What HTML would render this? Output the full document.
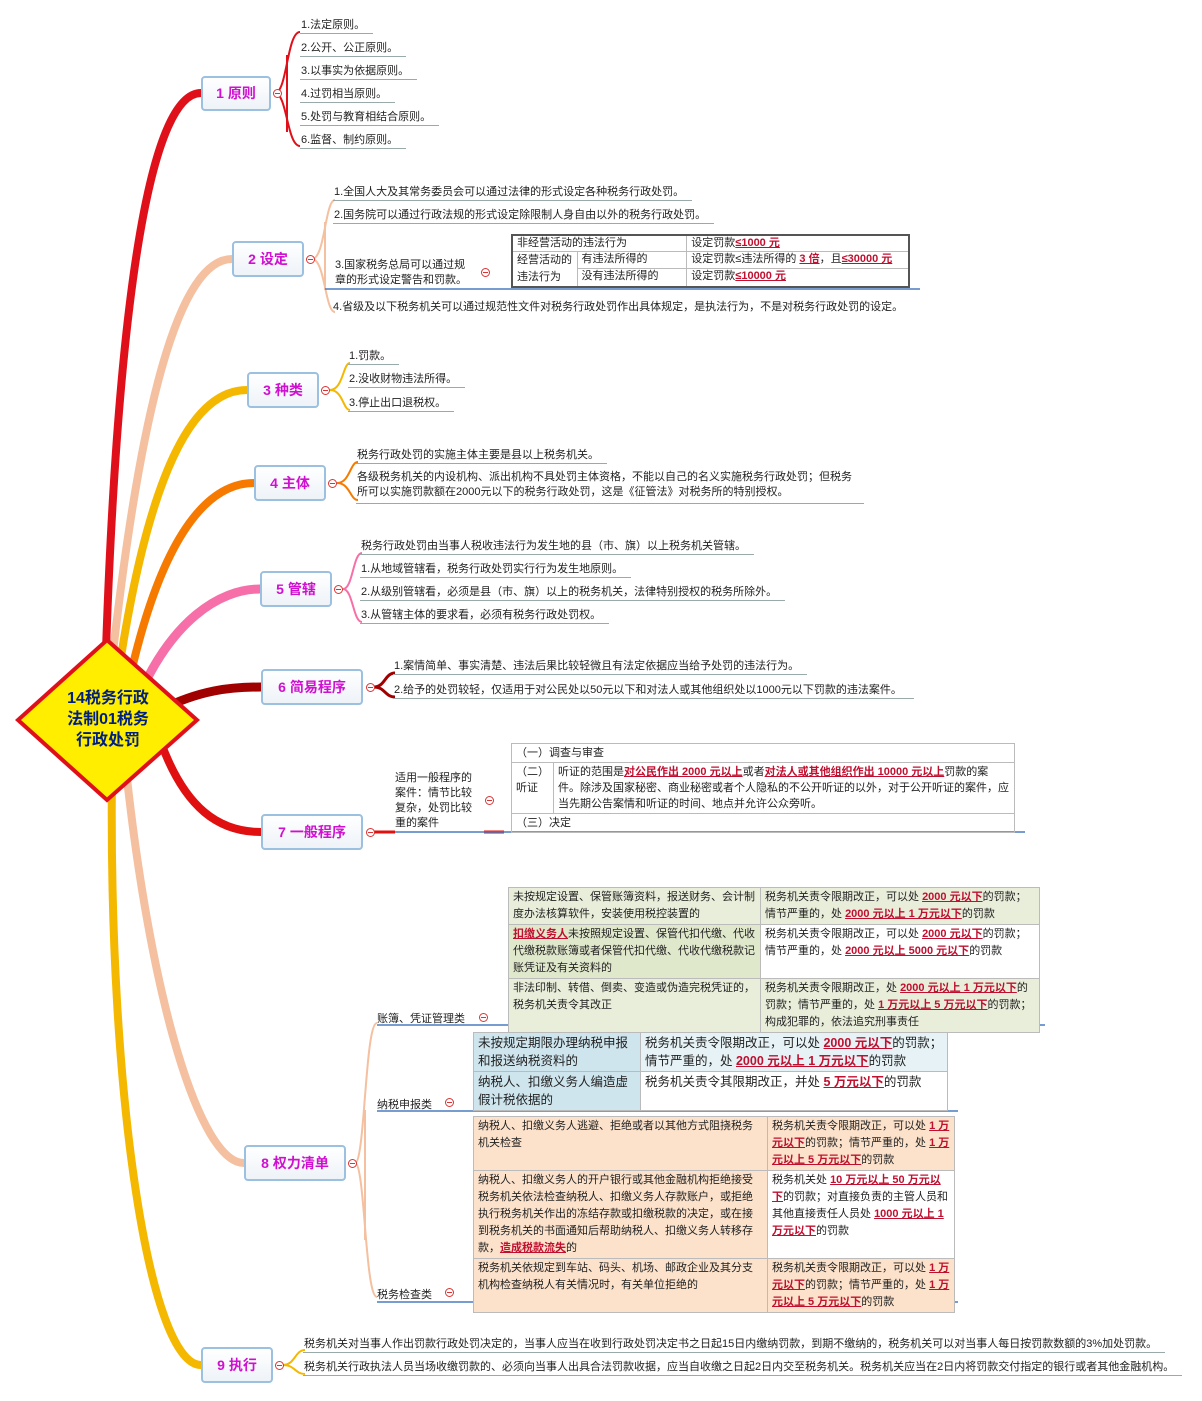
<!DOCTYPE html>
<html><head><meta charset="utf-8">
<style>
*{margin:0;padding:0;box-sizing:border-box}
body{width:1202px;height:1401px;background:#fff;position:relative;overflow:hidden;font-family:"Liberation Sans","Noto Sans CJK SC",sans-serif;font-size:11px;color:#222}
.a{position:absolute;white-space:nowrap}
.lf{position:absolute;white-space:nowrap;border-bottom:1px solid #9aa;padding:0 8px 1px 1px;line-height:14px}
.nd{position:absolute;border:2px solid #9cc0e0;border-radius:4px;background:linear-gradient(#fff,#eef3f8);color:#d010d0;font-weight:bold;font-size:14px;text-align:center}
.c{position:absolute;width:9px;height:9px;border:1px solid #d33;border-radius:50%;background:#fff}
.c:after{content:"";position:absolute;left:1px;right:1px;top:3px;height:1px;background:#d33}
table{position:absolute;border-collapse:collapse;font-size:11px}
td{border:1px solid #bbb;padding:1px 4px;vertical-align:top;line-height:16px}
u{color:#c01030;font-weight:bold;text-decoration:underline}
</style></head><body>
<svg class="a" style="left:0;top:0" width="1202" height="1401">
<g fill="none" stroke-linecap="round">
<path d="M106,650 C118,300 150,93 201,93" stroke="#e0101a" stroke-width="8"/>
<path d="M110,680 C140,400 180,259 232,259" stroke="#f4c0a0" stroke-width="8"/>
<path d="M116,690 C150,450 200,390 247,390" stroke="#f5b800" stroke-width="8"/>
<path d="M125,700 C160,530 210,483 254,483" stroke="#f77a00" stroke-width="8"/>
<path d="M135,705 C170,620 220,589 260,589" stroke="#f76fa8" stroke-width="9"/>
<path d="M160,710 C200,690 230,687 261,687" stroke="#a00000" stroke-width="9"/>
<path d="M160,740 C185,810 220,832 261,832" stroke="#e01010" stroke-width="8"/>
<path d="M125,760 C150,1000 200,1163 244,1163" stroke="#f4c0a0" stroke-width="8"/>
<path d="M112,770 C108,1100 150,1365 201,1365" stroke="#f5b800" stroke-width="8"/>
</g>
<g fill="none" stroke-width="2">
<g stroke="#e0101a"><path d="M275,93 C287,93 287,32 300,32"/><path d="M275,93 C287,93 287,146 300,146"/><path d="M287,55 L287,132"/></g>
<g stroke="#f4c0a0"><path d="M312,259 C325,259 325,200 335,200"/><path d="M312,259 C325,259 325,312 335,312"/><path d="M325,222 L325,290"/></g>
<g stroke="#f5b800"><path d="M330,390 C343,390 343,363 350,363"/><path d="M330,390 C343,390 343,410 350,410"/></g>
<g stroke="#f77a00"><path d="M337,483 C350,483 350,462 358,462"/><path d="M337,483 C350,483 350,500 358,500"/></g>
<g stroke="#f76fa8"><path d="M343,589 C353,589 353,553 362,553"/><path d="M343,589 C353,589 353,622 362,622"/></g>
<g stroke="#a00000" stroke-width="3"><path d="M374,687 C385,687 385,673 395,673"/><path d="M374,687 C385,687 385,697 395,697"/></g>
<path d="M374,832 L395,832" stroke="#e01010" stroke-width="3"/>
<path d="M484,832 L504,832" stroke="#e01010" stroke-width="3"/>
<g stroke="#f4c0a0"><path d="M355,1163 C365,1163 365,1023 377,1023"/><path d="M355,1163 C365,1163 365,1297 377,1297"/><path d="M365,1110 L365,1240"/></g>
<g stroke="#f5b800"><path d="M283,1365 C295,1365 295,1350 305,1350"/><path d="M283,1365 C295,1365 295,1374 305,1374"/></g>
</g>
<g stroke="#4a7cc0" stroke-width="1.5">
<line x1="325" y1="289" x2="920" y2="289"/><line x1="395" y1="832" x2="1025" y2="832"/>
<line x1="377" y1="1025" x2="1045" y2="1025"/><line x1="377" y1="1111" x2="958" y2="1111"/><line x1="377" y1="1302" x2="958" y2="1302"/>
</g>
<polygon points="107,640 197,720 107,800 18,720" fill="#ffee00" stroke="#e0101a" stroke-width="4"/>
</svg>
<div class="a" style="left:52px;top:688px;width:112px;text-align:center;font-size:16px;font-weight:bold;color:#002080;line-height:21px">14税务行政<br>法制01税务<br>行政处罚</div>

<div class="nd" style="left:201px;top:76px;width:70px;height:35px;line-height:31px">1 原则</div>
<div class="nd" style="left:232px;top:241px;width:72px;height:36px;line-height:32px">2 设定</div>
<div class="nd" style="left:247px;top:372px;width:72px;height:36px;line-height:32px">3 种类</div>
<div class="nd" style="left:254px;top:465px;width:72px;height:36px;line-height:32px">4 主体</div>
<div class="nd" style="left:260px;top:571px;width:72px;height:36px;line-height:32px">5 管辖</div>
<div class="nd" style="left:261px;top:669px;width:102px;height:36px;line-height:32px">6 简易程序</div>
<div class="nd" style="left:261px;top:814px;width:102px;height:36px;line-height:32px">7 一般程序</div>
<div class="nd" style="left:244px;top:1145px;width:102px;height:36px;line-height:32px">8 权力清单</div>
<div class="nd" style="left:201px;top:1347px;width:72px;height:36px;line-height:32px">9 执行</div>

<div class="c" style="left:273px;top:89px"></div><div class="c" style="left:306px;top:255px"></div><div class="c" style="left:321px;top:386px"></div>
<div class="c" style="left:328px;top:479px"></div><div class="c" style="left:334px;top:585px"></div><div class="c" style="left:366px;top:683px"></div>
<div class="c" style="left:366px;top:828px"></div><div class="c" style="left:348px;top:1159px"></div><div class="c" style="left:275px;top:1361px"></div>
<div class="c" style="left:481px;top:268px"></div><div class="c" style="left:485px;top:796px"></div><div class="c" style="left:479px;top:1013px"></div>
<div class="c" style="left:445px;top:1098px"></div><div class="c" style="left:445px;top:1288px"></div>

<div class="lf" style="left:300px;top:18px">1.法定原则。</div>
<div class="lf" style="left:300px;top:41px">2.公开、公正原则。</div>
<div class="lf" style="left:300px;top:64px">3.以事实为依据原则。</div>
<div class="lf" style="left:300px;top:87px">4.过罚相当原则。</div>
<div class="lf" style="left:300px;top:110px">5.处罚与教育相结合原则。</div>
<div class="lf" style="left:300px;top:133px">6.监督、制约原则。</div>

<div class="lf" style="left:333px;top:185px">1.全国人大及其常务委员会可以通过法律的形式设定各种税务行政处罚。</div>
<div class="lf" style="left:333px;top:208px">2.国务院可以通过行政法规的形式设定除限制人身自由以外的税务行政处罚。</div>
<div class="a" style="left:335px;top:258px;line-height:15px">3.国家税务总局可以通过规<br>章的形式设定警告和罚款。</div>
<div class="a" style="left:333px;top:298px">4.省级及以下税务机关可以通过规范性文件对税务行政处罚作出具体规定，是执法行为，不是对税务行政处罚的设定。</div>
<table style="left:511px;top:234px;width:399px;border:2px solid #555">
<tr><td colspan="2" style="width:169px;padding:0 4px;line-height:15px">非经营活动的违法行为</td><td style="padding:0 4px;line-height:15px">设定罚款<u>≤1000 元</u></td></tr>
<tr><td rowspan="2" style="width:65px;line-height:17px;padding:0 4px">经营活动的违法行为</td><td style="padding:0 4px;line-height:15px">有违法所得的</td><td style="padding:0 4px;line-height:15px">设定罚款≤违法所得的 <u>3 倍</u>，且<u>≤30000 元</u></td></tr>
<tr><td style="padding:0 4px;line-height:15px">没有违法所得的</td><td style="padding:0 4px;line-height:15px">设定罚款<u>≤10000 元</u></td></tr>
</table>

<div class="lf" style="left:348px;top:349px">1.罚款。</div>
<div class="lf" style="left:348px;top:372px">2.没收财物违法所得。</div>
<div class="lf" style="left:348px;top:396px">3.停止出口退税权。</div>

<div class="lf" style="left:356px;top:448px">税务行政处罚的实施主体主要是县以上税务机关。</div>
<div class="lf" style="left:356px;top:470px;line-height:15px;padding-bottom:3px;width:508px;white-space:normal">各级税务机关的内设机构、派出机构不具处罚主体资格，不能以自己的名义实施税务行政处罚；但税务所可以实施罚款额在2000元以下的税务行政处罚，这是《征管法》对税务所的特别授权。</div>

<div class="lf" style="left:360px;top:539px">税务行政处罚由当事人税收违法行为发生地的县（市、旗）以上税务机关管辖。</div>
<div class="lf" style="left:360px;top:562px">1.从地域管辖看，税务行政处罚实行行为发生地原则。</div>
<div class="lf" style="left:360px;top:585px">2.从级别管辖看，必须是县（市、旗）以上的税务机关，法律特别授权的税务所除外。</div>
<div class="lf" style="left:360px;top:608px">3.从管辖主体的要求看，必须有税务行政处罚权。</div>

<div class="lf" style="left:393px;top:659px">1.案情简单、事实清楚、违法后果比较轻微且有法定依据应当给予处罚的违法行为。</div>
<div class="lf" style="left:393px;top:683px;padding-right:12px">2.给予的处罚较轻，仅适用于对公民处以50元以下和对法人或其他组织处以1000元以下罚款的违法案件。</div>

<div class="a" style="left:395px;top:771px;line-height:15px">适用一般程序的<br>案件：情节比较<br>复杂，处罚比较<br>重的案件</div>
<table style="left:511px;top:743px;width:504px;border:1px solid #bbb">
<tr><td colspan="2" style="line-height:16px">（一）调查与审查</td></tr>
<tr><td style="width:40px;line-height:16px">（二）听证</td><td style="line-height:16px">听证的范围是<u>对公民作出 2000 元以上</u>或者<u>对法人或其他组织作出 10000 元以上</u>罚款的案件。除涉及国家秘密、商业秘密或者个人隐私的不公开听证的以外，对于公开听证的案件，应当先期公告案情和听证的时间、地点并允许公众旁听。</td></tr>
<tr><td colspan="2" style="line-height:16px">（三）决定</td></tr>
</table>

<div class="a" style="left:377px;top:1010px">账簿、凭证管理类</div>
<div class="a" style="left:377px;top:1096px">纳税申报类</div>
<div class="a" style="left:377px;top:1286px">税务检查类</div>

<table style="left:508px;top:887px;width:532px;background:#e9eedb">
<tr style="height:36px"><td style="width:252px;line-height:17px">未按规定设置、保管账簿资料，报送财务、会计制度办法核算软件，安装使用税控装置的</td><td style="line-height:17px">税务机关责令限期改正，可以处 <u>2000 元以下</u>的罚款；情节严重的，处 <u>2000 元以上 1 万元以下</u>的罚款</td></tr>
<tr style="height:52px"><td style="line-height:17px;background:#e0e8cc"><u>扣缴义务人</u>未按照规定设置、保管代扣代缴、代收代缴税款账簿或者保管代扣代缴、代收代缴税款记账凭证及有关资料的</td><td style="line-height:17px;background:#fff">税务机关责令限期改正，可以处 <u>2000 元以下</u>的罚款；情节严重的，处 <u>2000 元以上 5000 元以下</u>的罚款</td></tr>
<tr style="height:50px"><td style="line-height:17px">非法印制、转借、倒卖、变造或伪造完税凭证的，税务机关责令其改正</td><td style="line-height:17px">税务机关责令限期改正，处 <u>2000 元以上 1 万元以下</u>的罚款；情节严重的，处 <u>1 万元以上 5 万元以下</u>的罚款；构成犯罪的，依法追究刑事责任</td></tr>
</table>

<table style="left:473px;top:1032px;width:475px;font-size:12.5px">
<tr style="height:39px"><td style="width:167px;background:#cfe5ee;line-height:18px">未按规定期限办理纳税申报和报送纳税资料的</td><td style="background:#e6f2f6;line-height:18px">税务机关责令限期改正，可以处 <u>2000 元以下</u>的罚款；情节严重的，处 <u>2000 元以上 1 万元以下</u>的罚款</td></tr>
<tr style="height:39px"><td style="background:#cfe5ee;line-height:18px">纳税人、扣缴义务人编造虚假计税依据的</td><td style="line-height:18px">税务机关责令其限期改正，并处 <u>5 万元以下</u>的罚款</td></tr>
</table>

<table style="left:473px;top:1116px;width:482px;background:#fce2cb">
<tr style="height:52px"><td style="width:294px;line-height:17px">纳税人、扣缴义务人逃避、拒绝或者以其他方式阻挠税务机关检查</td><td style="line-height:17px">税务机关责令限期改正，可以处 <u>1 万元以下</u>的罚款；情节严重的，处 <u>1 万元以上 5 万元以下</u>的罚款</td></tr>
<tr style="height:82px"><td style="line-height:17px">纳税人、扣缴义务人的开户银行或其他金融机构拒绝接受税务机关依法检查纳税人、扣缴义务人存款账户，或拒绝执行税务机关作出的冻结存款或扣缴税款的决定，或在接到税务机关的书面通知后帮助纳税人、扣缴义务人转移存款，<u>造成税款流失</u>的</td><td style="line-height:17px;background:#fff">税务机关处 <u>10 万元以上 50 万元以下</u>的罚款；对直接负责的主管人员和其他直接责任人员处 <u>1000 元以上 1 万元以下</u>的罚款</td></tr>
<tr style="height:50px"><td style="line-height:17px">税务机关依规定到车站、码头、机场、邮政企业及其分支机构检查纳税人有关情况时，有关单位拒绝的</td><td style="line-height:17px">税务机关责令限期改正，可以处 <u>1 万元以下</u>的罚款；情节严重的，处 <u>1 万元以上 5 万元以下</u>的罚款</td></tr>
</table>

<div class="lf" style="left:303px;top:1337px">税务机关对当事人作出罚款行政处罚决定的，当事人应当在收到行政处罚决定书之日起15日内缴纳罚款，到期不缴纳的，税务机关可以对当事人每日按罚款数额的3%加处罚款。</div>
<div class="lf" style="left:303px;top:1360px">税务机关行政执法人员当场收缴罚款的、必须向当事人出具合法罚款收据，应当自收缴之日起2日内交至税务机关。税务机关应当在2日内将罚款交付指定的银行或者其他金融机构。</div>
</body></html>
